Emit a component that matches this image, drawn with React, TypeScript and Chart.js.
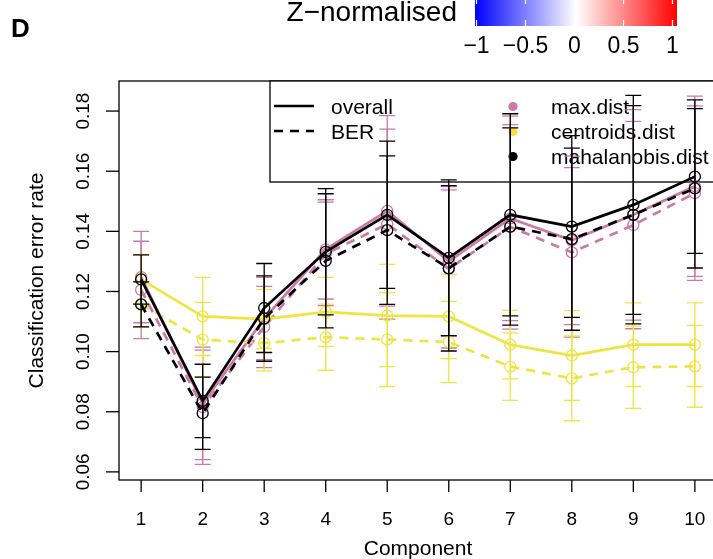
import React, { useEffect, useRef } from "react";
import { Chart, registerables } from "chart.js";

Chart.register(...registerables);

// ---------- data ----------
const components = [1, 2, 3, 4, 5, 6, 7, 8, 9, 10];
const yTicks = [0.06, 0.08, 0.1, 0.12, 0.14, 0.16, 0.18];
const yTickLabels = ["0.06", "0.08", "0.10", "0.12", "0.14", "0.16", "0.18"];
const xTickLabels = ["1", "2", "3", "4", "5", "6", "7", "8", "9", "10"];
const colorbarTicks = [-1, -0.5, 0, 0.5, 1];
const colorbarLabels = ["\u22121", "\u22120.5", "0", "0.5", "1"];

const maxOverall = [0.1248, 0.0828, 0.111, 0.134, 0.1468, 0.13, 0.1443, 0.137, 0.1455, 0.155];
const maxOverallSd = [0.0152, 0.0187, 0.0137, 0.0165, 0.0317, 0.0249, 0.034, 0.028, 0.035, 0.03];
const maxBer = [0.1205, 0.0815, 0.1082, 0.1325, 0.1424, 0.1275, 0.1415, 0.133, 0.1421, 0.1527];
const maxBerSd = [0.0162, 0.019, 0.0135, 0.0172, 0.0316, 0.0263, 0.034, 0.0282, 0.0345, 0.029];

const centOverall = [0.124, 0.1117, 0.1108, 0.1132, 0.112, 0.1117, 0.1023, 0.0987, 0.1023, 0.1023];
const centOverallSd = [0.0082, 0.013, 0.0098, 0.0115, 0.017, 0.014, 0.0114, 0.0149, 0.0139, 0.0139];
const centBer = [0.1157, 0.104, 0.1028, 0.1048, 0.104, 0.1032, 0.095, 0.0911, 0.0948, 0.0951];
const centBerSd = [0.0075, 0.0124, 0.0092, 0.011, 0.0156, 0.0135, 0.0112, 0.0141, 0.0137, 0.0136];

const mahalOverall = [0.124, 0.0836, 0.1145, 0.1332, 0.1455, 0.1312, 0.1455, 0.1416, 0.1488, 0.1582];
const mahalOverallSd = [0.0082, 0.0122, 0.0148, 0.021, 0.0245, 0.0259, 0.0336, 0.0302, 0.0364, 0.0255];
const mahalBer = [0.1157, 0.0795, 0.111, 0.1302, 0.1404, 0.1277, 0.1416, 0.1374, 0.1455, 0.1543];
const mahalBerSd = [0.0075, 0.012, 0.0142, 0.0223, 0.0247, 0.0275, 0.0328, 0.0303, 0.0363, 0.0265];

const measureLabels = ["overall", "BER"];
const distanceLabels = ["max.dist", "centroids.dist", "mahalanobis.dist"];

// ---------- styles ----------
const PINK = "#CC79A7";
const YELLOW = "#F0E442";
const BLACK = "#000000";
const distanceColors = [PINK, YELLOW, BLACK];
const DASH = [9, 7];
const FONT = '"Liberation Sans", Arial, Helvetica, sans-serif';

const series = [
  { label: "max.dist overall", mean: maxOverall, sd: maxOverallSd, color: PINK, dash: false, order: 6 },
  { label: "max.dist BER", mean: maxBer, sd: maxBerSd, color: PINK, dash: true, order: 5 },
  { label: "centroids.dist overall", mean: centOverall, sd: centOverallSd, color: YELLOW, dash: false, order: 4 },
  { label: "centroids.dist BER", mean: centBer, sd: centBerSd, color: YELLOW, dash: true, order: 3 },
  { label: "mahalanobis.dist overall", mean: mahalOverall, sd: mahalOverallSd, color: BLACK, dash: false, order: 2 },
  { label: "mahalanobis.dist BER", mean: mahalBer, sd: mahalBerSd, color: BLACK, dash: true, order: 1 },
];

const decorPlugin = {
  id: "decor",
  beforeDatasetsDraw(chart: any) {
    const { ctx, chartArea: ca, scales } = chart;
    const x = scales.x;
    const y = scales.y;
    ctx.save();
    ctx.fillStyle = "#000";
    ctx.textBaseline = "alphabetic";

    // panel letter
    ctx.font = `bold 26px ${FONT}`;
    ctx.textAlign = "left";
    ctx.fillText("D", 11, 37);

    // colour bar title
    ctx.font = `28px ${FONT}`;
    ctx.textAlign = "right";
    ctx.fillText("Z\u2212normalised", 457, 21);

    // colour bar
    const cbL = 475, cbR = 677, cbT = 0, cbB = 26;
    const g = ctx.createLinearGradient(cbL, 0, cbR, 0);
    g.addColorStop(0, "#0000ff");
    g.addColorStop(0.5, "#ffffff");
    g.addColorStop(1, "#ff0000");
    ctx.fillStyle = g;
    ctx.fillRect(cbL, cbT, cbR - cbL, cbB - cbT);
    const cbX = (v: number) => 476.5 + (v + 1) * 98;
    ctx.strokeStyle = "#ffffff";
    ctx.lineWidth = 1.2;
    colorbarTicks.forEach((v) => {
      const px = cbX(v);
      ctx.beginPath();
      ctx.moveTo(px, cbB - 6);
      ctx.lineTo(px, cbB);
      ctx.moveTo(px, cbT);
      ctx.lineTo(px, cbT + 4);
      ctx.stroke();
    });
    ctx.fillStyle = "#000";
    ctx.font = `23px ${FONT}`;
    ctx.textAlign = "center";
    colorbarTicks.forEach((v, i) => {
      ctx.fillText(colorbarLabels[i], cbX(v), 53);
    });

    // plot box
    ctx.strokeStyle = "#000";
    ctx.lineWidth = 1.3;
    ctx.strokeRect(ca.left, ca.top, ca.right - ca.left, ca.bottom - ca.top);

    // y axis ticks + labels
    ctx.font = `19px ${FONT}`;
    yTicks.forEach((v, i) => {
      const py = y.getPixelForValue(v);
      ctx.beginPath();
      ctx.moveTo(ca.left - 13, py);
      ctx.lineTo(ca.left, py);
      ctx.stroke();
      ctx.save();
      ctx.translate(89, py);
      ctx.rotate(-Math.PI / 2);
      ctx.textAlign = "center";
      ctx.fillText(yTickLabels[i], 0, 0);
      ctx.restore();
    });

    // x axis ticks + labels
    components.forEach((c, i) => {
      const px = x.getPixelForValue(c);
      ctx.beginPath();
      ctx.moveTo(px, ca.bottom);
      ctx.lineTo(px, ca.bottom + 12);
      ctx.stroke();
      ctx.textAlign = "center";
      ctx.fillText(xTickLabels[i], px, 525);
    });

    // axis titles
    ctx.font = `21px ${FONT}`;
    ctx.textAlign = "center";
    ctx.fillText("Component", (ca.left + ca.right) / 2, 555);
    ctx.save();
    ctx.translate(43, (ca.top + ca.bottom) / 2);
    ctx.rotate(-Math.PI / 2);
    ctx.fillText("Classification error rate", 0, 0);
    ctx.restore();

    // legend box
    const lgL = 270, lgT = ca.top, lgB = 182;
    ctx.fillStyle = "#fff";
    ctx.fillRect(lgL, lgT, ca.right - lgL, lgB - lgT);
    ctx.strokeStyle = "#000";
    ctx.lineWidth = 1.3;
    ctx.strokeRect(lgL, lgT, ca.right - lgL, lgB - lgT);

    const rowBase = [114, 139, 164];
    ctx.lineWidth = 2.7;
    measureLabels.forEach((lab, i) => {
      const yy = rowBase[i] - 8;
      ctx.setLineDash(i === 1 ? DASH : []);
      ctx.beginPath();
      ctx.moveTo(274, yy);
      ctx.lineTo(314, yy);
      ctx.stroke();
      ctx.setLineDash([]);
      ctx.fillStyle = "#000";
      ctx.font = `21px ${FONT}`;
      ctx.textAlign = "left";
      ctx.fillText(lab, 331, rowBase[i]);
    });
    distanceLabels.forEach((lab, i) => {
      const yy = rowBase[i] - 7.5;
      ctx.fillStyle = distanceColors[i];
      ctx.beginPath();
      ctx.arc(513, yy, 4.6, 0, Math.PI * 2);
      ctx.fill();
      ctx.fillStyle = "#000";
      ctx.font = `21px ${FONT}`;
      ctx.textAlign = "left";
      ctx.fillText(lab, 551, rowBase[i]);
    });
    ctx.restore();
  },
  afterDatasetDraw(chart: any, args: any) {
    const s = series[args.index];
    if (!s) return;
    const { ctx, scales } = chart;
    const x = scales.x;
    const y = scales.y;
    ctx.save();
    ctx.strokeStyle = s.color;
    ctx.lineWidth = 1.3;
    ctx.setLineDash([]);
    components.forEach((c, i) => {
      const px = x.getPixelForValue(c);
      const lo = y.getPixelForValue(s.mean[i] - s.sd[i]);
      const hi = y.getPixelForValue(s.mean[i] + s.sd[i]);
      ctx.beginPath();
      ctx.moveTo(px, lo);
      ctx.lineTo(px, hi);
      ctx.moveTo(px - 8, lo);
      ctx.lineTo(px + 8, lo);
      ctx.moveTo(px - 8, hi);
      ctx.lineTo(px + 8, hi);
      ctx.stroke();
    });
    ctx.restore();
  },
};

export default function App() {
  const canvasRef = useRef<HTMLCanvasElement | null>(null);

  useEffect(() => {
    const canvas = canvasRef.current;
    if (!canvas) return;
    const chart = new Chart(canvas, {
      type: "line",
      data: {
        datasets: series.map((s) => ({
          label: s.label,
          data: components.map((c, i) => ({ x: c, y: s.mean[i] })),
          borderColor: s.color,
          borderWidth: 2.7,
          borderDash: s.dash ? DASH : [],
          pointRadius: 5.5,
          pointBorderWidth: 1.3,
          pointBackgroundColor: "rgba(0,0,0,0)",
          pointBorderColor: s.color,
          fill: false,
          tension: 0,
          order: s.order,
          clip: false as any,
        })),
      },
      options: {
        animation: false,
        responsive: false,
        devicePixelRatio: 1,
        events: [],
        layout: { padding: { left: 119, top: 81, right: 13, bottom: 79 } },
        scales: {
          x: { type: "linear", min: 0.64, max: 10.36, display: false },
          y: { type: "linear", min: 0.0573, max: 0.19, display: false },
        },
        plugins: { legend: { display: false }, tooltip: { enabled: false } },
      },
      plugins: [decorPlugin as any],
    });
    return () => chart.destroy();
  }, []);

  return (
    <div
      style={{
        position: "fixed",
        left: 0,
        top: 0,
        width: 713,
        height: 559,
        overflow: "hidden",
        background: "#fff",
      }}
    >
      <canvas
        ref={canvasRef}
        width={730}
        height={559}
        style={{ display: "block", width: 730, height: 559 }}
      />
    </div>
  );
}
